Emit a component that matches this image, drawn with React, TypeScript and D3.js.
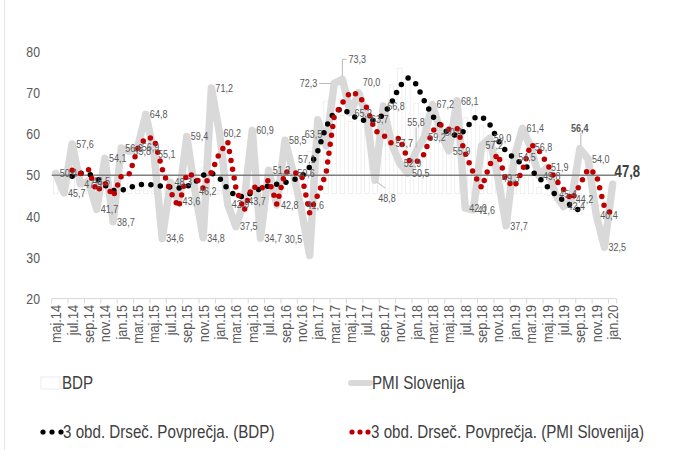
import React from 'react';
import * as d3 from 'd3';

// month categories (maj.14 .. jan.20)
const months = [
  'maj.14','jun.14','jul.14','avg.14','sep.14','okt.14','nov.14','dec.14',
  'jan.15','feb.15','mar.15','apr.15','maj.15','jun.15','jul.15','avg.15','sep.15','okt.15','nov.15','dec.15',
  'jan.16','feb.16','mar.16','apr.16','maj.16','jun.16','jul.16','avg.16','sep.16','okt.16','nov.16','dec.16',
  'jan.17','feb.17','mar.17','apr.17','maj.17','jun.17','jul.17','avg.17','sep.17','okt.17','nov.17','dec.17',
  'jan.18','feb.18','mar.18','apr.18','maj.18','jun.18','jul.18','avg.18','sep.18','okt.18','nov.18','dec.18',
  'jan.19','feb.19','mar.19','apr.19','maj.19','jun.19','jul.19','avg.19','sep.19','okt.19','nov.19','dec.19',
  'jan.20',
];

const pmi = [
  50.4, 45.7, 57.6, 47.9, 48.5, 41.7, 54.1, 38.7,
  56.6, 55.8, 56.9, 64.8, 55.1, 34.6, 48.3, 43.6, 59.4, 46.2, 34.8, 71.2,
  60.2, 42.9, 37.5, 43.7, 60.9, 34.7, 51.2, 42.8, 58.5, 50.6, 41.6, 30.5,
  63.5, 57.1, 72.3, 73.3, 65.2, 70.0, 63.7, 48.8, 66.8, 57.7, 52.9, 50.5,
  55.8, 59.2, 67.2, 60.4, 55.9, 68.1, 42.0, 41.6, 57.2, 59.0, 49.3, 37.7,
  54.5, 61.4, 56.8, 49.8, 51.9, 45.4, 42.4, 44.2, 56.4, 54.0, 40.4, 32.5,
  47.8,
];

// BDP ends in sep.19
const bdp = [
  49.0, 49.8, 50.5, 51.2, 49.4, 47.0, 46.2, 45.7,
  47.1, 48.1, 47.9, 47.5, 47.3, 47.1, 46.9, 46.6, 48.2, 50.1, 51.8, 49.8,
  46.3, 43.7, 44.8, 45.7, 47.0, 47.5, 47.8, 48.2, 48.7, 49.6, 50.5, 55.8,
  61.5, 68.0, 66.5, 64.5, 63.1, 63.2, 63.2, 63.8, 67.0, 72.0, 76.0, 73.0,
  67.5, 63.8, 62.0, 60.3, 58.0, 60.7, 64.0, 67.0, 62.0, 58.0, 55.5, 53.9,
  52.7, 51.6, 49.6, 47.0, 45.1, 43.9, 42.5, 41.2, 40.5,
];

const yTicks = [20, 30, 40, 50, 60, 70, 80];

const W = 684, H = 450;
const FONT = "'Liberation Sans', Arial, sans-serif";
const SQUISH = 0.82; // narrow look of the original font
const BDP_BASE = 45.5; // columns sit on the secondary axis crossing

// moving average trendline, period 3 (as Excel does it)
const movingAvg = (vals: number[], n = 3) =>
  vals.map((_, i) => (i < n - 1 ? null : d3.mean(vals.slice(i - n + 1, i + 1)) as number));

const fmt = (v: number) => v.toFixed(1).replace('.', ',');

// narrow text
function T({ x, y, a = 'start', s = 11, w = 'normal', f = '#595959', rot = false, children }: any) {
  return (
    <text transform={`translate(${x},${y})${rot ? ' rotate(-90)' : ''} scale(${SQUISH},1)`}
      dy="0.35em" textAnchor={a} fontSize={s} fontWeight={w} fill={f}>{children}</text>
  );
}

// label placement tweaks (dx, dy from the point), some with leader lines
const nudge: Record<number, any> = {
  30: { dx: 5, dy: -5 },
  31: { dx: -25, dy: -16 },
  32: { dx: -13, dy: 14 },
  33: { dx: -28, dy: 13 },
  34: { dx: -17, dy: 0, anchor: 'end', leader: [[-15, 0], [-3, 0]] },
  35: { dx: 6, dy: -20, leader: [[0, -3], [0, -20], [4, -20]] },
  37: { dx: 4, dy: -11 },
  39: { dx: 3, dy: 18, leader: [[2, 2], [10, 8]] },
  44: { dx: 0, dy: -29, anchor: 'middle', leader: [[0, -24], [0, -4]] },
  64: { dx: 0, dy: -21, anchor: 'middle', bold: true, leader: [[1, -16], [1, -3]] },
  68: { dx: 2, dy: -13, bold: true, big: true },
};

function App() {
  const x = d3.scaleBand().domain(months).range([51.7, 616.7]);
  const y = d3.scaleLinear().domain([20, 80]).range([298.6, 51.8]);
  const cx = (i: number) => (x(months[i]) as number) + x.bandwidth() / 2;

  const pmiLine = d3.line<number>().x((_, i) => cx(i)).y(d => y(d));
  const maLine = d3.line<number | null>()
    .defined(d => d != null)
    .x((_, i) => cx(i))
    .y(d => y(d as number));

  const pmiMa = movingAvg(pmi);
  const bdpMa = movingAvg(bdp);
  const colW = x.bandwidth() * 0.55;

  return (
    <svg width={W} height={H} style={{ position: 'absolute', left: 0, top: 0, background: '#fff' }}
      fontFamily={FONT}>
      <rect x={0} y={0} width={W} height={H} fill="#fff" />
      <line x1={4.5} x2={4.5} y1={0} y2={H} stroke="#e6e6e6" />

      {/* y labels */}
      {yTicks.map(t => (
        <T key={t} x={40} y={y(t)} a="end" s={15}>{t}</T>
      ))}

      {/* BDP columns (white, faint outline) */}
      {bdp.map((v, i) => (
        <rect key={i} x={cx(i) - colW / 2} width={colW}
          y={Math.min(y(v), y(BDP_BASE))} height={Math.abs(y(v) - y(BDP_BASE))}
          fill="#fff" stroke="#ececec" strokeWidth={0.8} />
      ))}

      {/* bottom axis */}
      <line x1={51.7} x2={616.7} y1={298.6} y2={298.6} stroke="#d9d9d9" />
      {months.map((m, i) => i % 2 === 0 ? (
        <line key={'t' + m} x1={x(m) as number} x2={x(m) as number} y1={298.6} y2={303.5} stroke="#d9d9d9" />
      ) : null)}
      <line x1={616.7} x2={616.7} y1={298.6} y2={303.5} stroke="#d9d9d9" />
      {months.map((m, i) => i % 2 === 0 ? (
        <T key={'l' + m} x={cx(i)} y={305} rot a="end" s={15.5}>{m}</T>
      ) : null)}

      {/* PMI */}
      <path d={pmiLine(pmi) as string} fill="none" stroke="#d9d9d9" strokeWidth={7.5}
        strokeLinejoin="round" strokeLinecap="round" />

      {/* line at 50 */}
      <line x1={51.7} x2={616.7} y1={y(50)} y2={y(50)} stroke="#7f7f7f" strokeWidth={1.5} />

      {/* moving averages */}
      <path d={maLine(bdpMa) as string} fill="none" stroke="#000" strokeWidth={5.5}
        strokeDasharray="0 9.5" strokeLinecap="round" />
      <path d={maLine(pmiMa) as string} fill="none" stroke="#c00000" strokeWidth={5.5}
        strokeDasharray="0 9" strokeLinecap="round" />

      {/* PMI data labels */}
      {pmi.map((v, i) => {
        const n = nudge[i] || { dx: 4, dy: 0 };
        const px = cx(i), py = y(v);
        return (
          <g key={'d' + i}>
            {n.leader && (
              <polyline points={n.leader.map((p: number[]) => `${px + p[0]},${py + p[1]}`).join(' ')}
                fill="none" stroke="#a6a6a6" strokeWidth={0.8} />
            )}
            <T x={px + n.dx} y={py + n.dy} a={n.anchor || 'start'}
              s={n.big ? 16 : 11} w={n.bold ? 'bold' : 'normal'}
              f={n.big ? '#404040' : '#595959'}>{fmt(v)}</T>
          </g>
        );
      })}

      {/* legend */}
      <rect x={41} y={377} width={19} height={12} fill="#fff" stroke="#ececec" />
      <T x={62} y={383} s={18.5} f="#404040">BDP</T>
      <line x1={351} x2={370} y1={383} y2={383} stroke="#d9d9d9" strokeWidth={6} strokeLinecap="round" />
      <T x={372} y={383} s={18.5} f="#404040">PMI Slovenija</T>
      {[43, 52, 61].map(d => <circle key={'b' + d} cx={d} cy={432} r={2.6} fill="#000" />)}
      <T x={63} y={432} s={18.5} f="#404040">3 obd. Drseč. Povprečja. (BDP)</T>
      {[352, 360, 368].map(d => <circle key={'r' + d} cx={d} cy={432} r={2.6} fill="#c00000" />)}
      <T x={371} y={432} s={18.5} f="#404040">3 obd. Drseč. Povprečja. (PMI Slovenija)</T>
    </svg>
  );
}

export default App;
